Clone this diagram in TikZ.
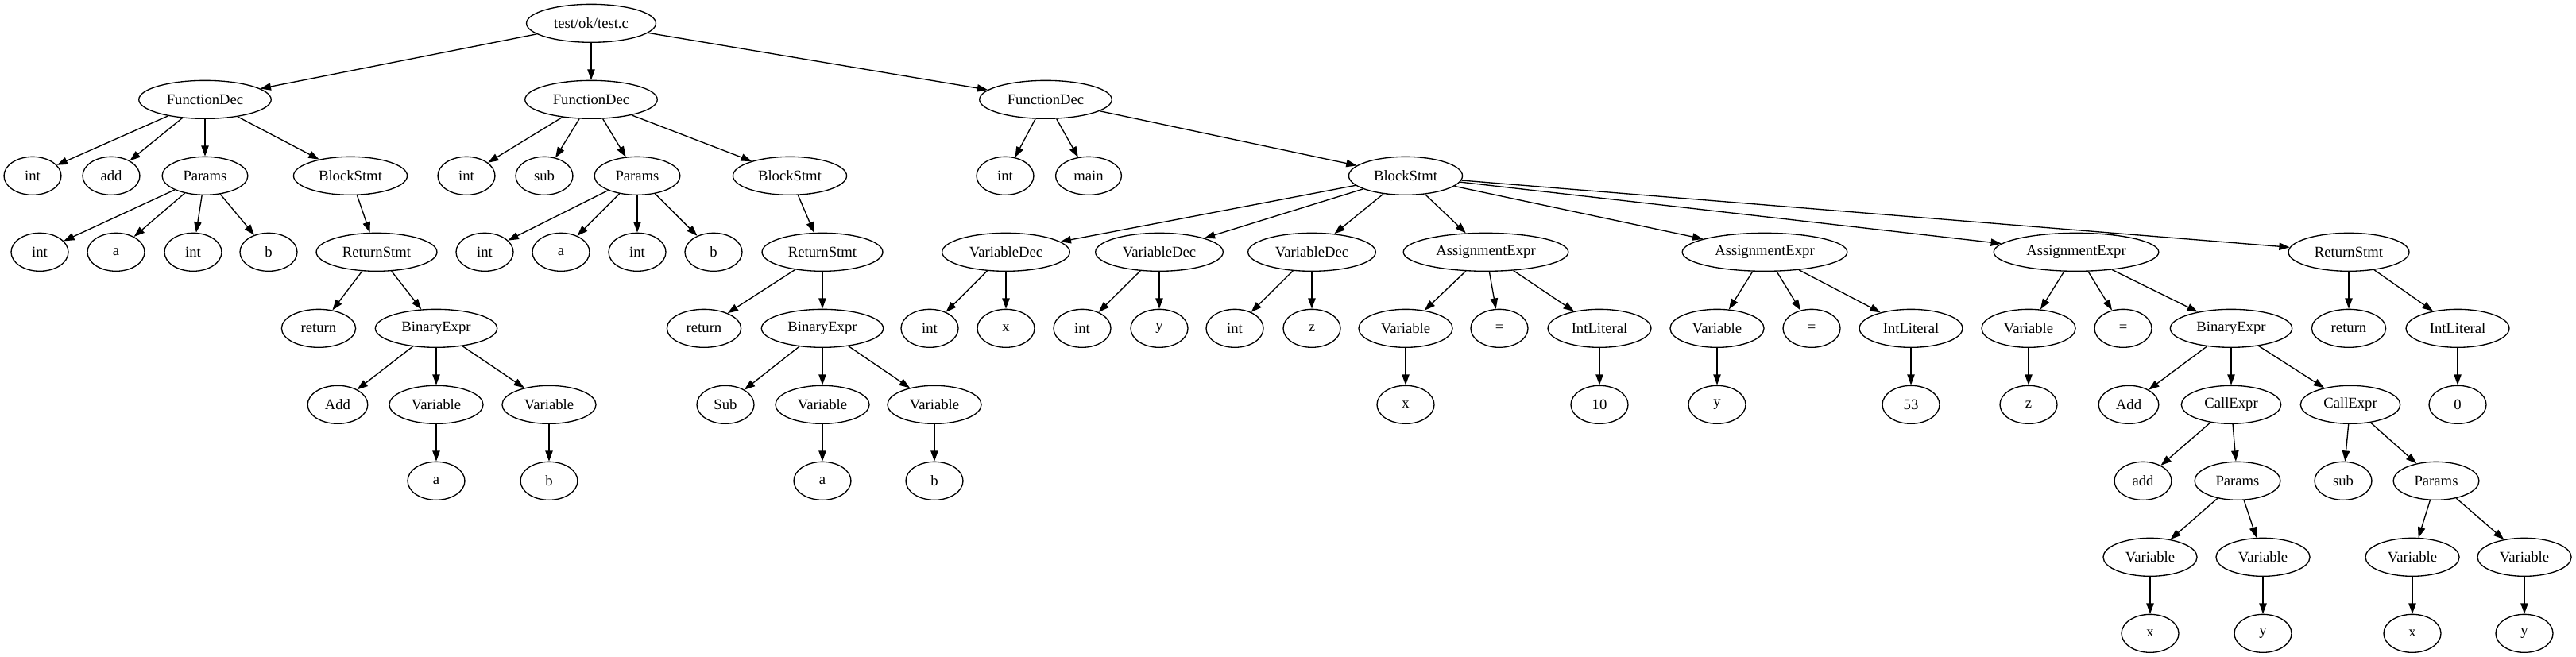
\documentclass[tikz,border=0pt]{standalone}
\usepackage{fontspec}
\setmainfont{Liberation Serif}
\usetikzlibrary{arrows.meta, shapes.geometric}
\tikzset{
  >={Triangle[length=10pt, width=7pt]}, % filled heads, as dot draws them
  x=0.75pt, % one x unit is one pixel of the dot output
  y=-72pt, % one y unit is one rank
}

\begin{document}
\begin{tikzpicture}[main/.style = {draw, ellipse, line width=1pt,
    minimum width=54pt, minimum height=36pt, inner xsep=8pt, inner ysep=4pt,
    font=\fontsize{14pt}{16.8pt}\selectfont}]
  \useasboundingbox (0,-0.3056) rectangle (3242,8.309);

  \node[main] (root) at (744,0) {test/ok/test.c};

  % int add(int a, int b)
  \node[main] (fa) at (258,1) {FunctionDec};
  \node[main] (faType) at (41,2) {int};
  \node[main] (faName) at (140,2) {add};
  \node[main] (faPar) at (258,2) {Params};
  \node[main] (faBlk) at (441,2) {BlockStmt};
  \node[main] (faP1) at (50,3) {int};
  \node[main] (faP2) at (146,3) {a};
  \node[main] (faP3) at (243,3) {int};
  \node[main] (faP4) at (338,3) {b};
  \node[main] (faRet) at (474,3) {ReturnStmt};
  \node[main] (faKw) at (401,4) {return};
  \node[main] (faBin) at (549,4) {BinaryExpr};
  \node[main] (faOp) at (425,5) {Add};
  \node[main] (faV1) at (549,5) {Variable};
  \node[main] (faV2) at (691,5) {Variable};
  \node[main] (faA) at (549,6) {a};
  \node[main] (faB) at (691,6) {b};

  % int sub(int a, int b)
  \node[main] (fs) at (744,1) {FunctionDec};
  \node[main] (fsType) at (587,2) {int};
  \node[main] (fsName) at (685,2) {sub};
  \node[main] (fsPar) at (802,2) {Params};
  \node[main] (fsBlk) at (994,2) {BlockStmt};
  \node[main] (fsP1) at (610,3) {int};
  \node[main] (fsP2) at (706,3) {a};
  \node[main] (fsP3) at (802,3) {int};
  \node[main] (fsP4) at (898,3) {b};
  \node[main] (fsRet) at (1035,3) {ReturnStmt};
  \node[main] (fsKw) at (886,4) {return};
  \node[main] (fsBin) at (1035,4) {BinaryExpr};
  \node[main] (fsOp) at (913,5) {Sub};
  \node[main] (fsV1) at (1035,5) {Variable};
  \node[main] (fsV2) at (1176,5) {Variable};
  \node[main] (fsA) at (1035,6) {a};
  \node[main] (fsB) at (1176,6) {b};

  % int main()
  \node[main] (fm) at (1316,1) {FunctionDec};
  \node[main] (fmType) at (1265,2) {int};
  \node[main] (fmName) at (1370,2) {main};
  \node[main] (fmBlk) at (1769,2) {BlockStmt};
  \node[main] (vdx) at (1266,3) {VariableDec};
  \node[main] (vdy) at (1459,3) {VariableDec};
  \node[main] (vdz) at (1651,3) {VariableDec};
  \node[main] (asx) at (1870,3) {AssignmentExpr};
  \node[main] (asy) at (2221,3) {AssignmentExpr};
  \node[main] (asz) at (2613,3) {AssignmentExpr};
  \node[main] (fmRet) at (2956,3) {ReturnStmt};
  \node[main] (vdxT) at (1170,4) {int};
  \node[main] (vdxN) at (1266,4) {x};
  \node[main] (vdyT) at (1362,4) {int};
  \node[main] (vdyN) at (1459,4) {y};
  \node[main] (vdzT) at (1554,4) {int};
  \node[main] (vdzN) at (1651,4) {z};
  \node[main] (asxV) at (1769,4) {Variable};
  \node[main] (asxEq) at (1887,4) {=};
  \node[main] (asxL) at (2013,4) {IntLiteral};
  \node[main] (asxN) at (1769,5) {x};
  \node[main] (asxI) at (2013,5) {10};
  \node[main] (asyV) at (2161,4) {Variable};
  \node[main] (asyEq) at (2280,4) {=};
  \node[main] (asyL) at (2405,4) {IntLiteral};
  \node[main] (asyN) at (2161,5) {y};
  \node[main] (asyI) at (2405,5) {53};
  \node[main] (aszV) at (2553,4) {Variable};
  \node[main] (aszEq) at (2672,4) {=};
  \node[main] (aszBin) at (2808,4) {BinaryExpr};
  \node[main] (aszN) at (2553,5) {z};
  \node[main] (aszOp) at (2679,5) {Add};
  \node[main] (callA) at (2808,5) {CallExpr};
  \node[main] (callS) at (2958,5) {CallExpr};
  \node[main] (callAN) at (2697,6) {add};
  \node[main] (callAP) at (2816,6) {Params};
  \node[main] (callSN) at (2949,6) {sub};
  \node[main] (callSP) at (3066,6) {Params};
  \node[main] (callAV1) at (2706,7) {Variable};
  \node[main] (callAV2) at (2848,7) {Variable};
  \node[main] (callSV1) at (3036,7) {Variable};
  \node[main] (callSV2) at (3177,7) {Variable};
  \node[main] (callAX) at (2706,8) {x};
  \node[main] (callAY) at (2848,8) {y};
  \node[main] (callSX) at (3036,8) {x};
  \node[main] (callSY) at (3177,8) {y};
  \node[main] (fmKw) at (2956,4) {return};
  \node[main] (fmLit) at (3093,4) {IntLiteral};
  \node[main] (fmZero) at (3093,5) {0};

  \path[->, line width=1pt]
    (root) edge (fa) edge (fs) edge (fm)
    (fa) edge (faType) edge (faName) edge (faPar) edge (faBlk)
    (faPar) edge (faP1) edge (faP2) edge (faP3) edge (faP4)
    (faBlk) edge (faRet)
    (faRet) edge (faKw) edge (faBin)
    (faBin) edge (faOp) edge (faV1) edge (faV2)
    (faV1) edge (faA)
    (faV2) edge (faB)
    (fs) edge (fsType) edge (fsName) edge (fsPar) edge (fsBlk)
    (fsPar) edge (fsP1) edge (fsP2) edge (fsP3) edge (fsP4)
    (fsBlk) edge (fsRet)
    (fsRet) edge (fsKw) edge (fsBin)
    (fsBin) edge (fsOp) edge (fsV1) edge (fsV2)
    (fsV1) edge (fsA)
    (fsV2) edge (fsB)
    (fm) edge (fmType) edge (fmName) edge (fmBlk)
    (fmBlk) edge (vdx) edge (vdy) edge (vdz) edge (asx) edge (asy)
      edge (asz) edge (fmRet)
    (vdx) edge (vdxT) edge (vdxN)
    (vdy) edge (vdyT) edge (vdyN)
    (vdz) edge (vdzT) edge (vdzN)
    (asx) edge (asxV) edge (asxEq) edge (asxL)
    (asxV) edge (asxN)
    (asxL) edge (asxI)
    (asy) edge (asyV) edge (asyEq) edge (asyL)
    (asyV) edge (asyN)
    (asyL) edge (asyI)
    (asz) edge (aszV) edge (aszEq) edge (aszBin)
    (aszV) edge (aszN)
    (aszBin) edge (aszOp) edge (callA) edge (callS)
    (callA) edge (callAN) edge (callAP)
    (callAP) edge (callAV1) edge (callAV2)
    (callAV1) edge (callAX)
    (callAV2) edge (callAY)
    (callS) edge (callSN) edge (callSP)
    (callSP) edge (callSV1) edge (callSV2)
    (callSV1) edge (callSX)
    (callSV2) edge (callSY)
    (fmRet) edge (fmKw) edge (fmLit)
    (fmLit) edge (fmZero);
\end{tikzpicture}
\end{document}
